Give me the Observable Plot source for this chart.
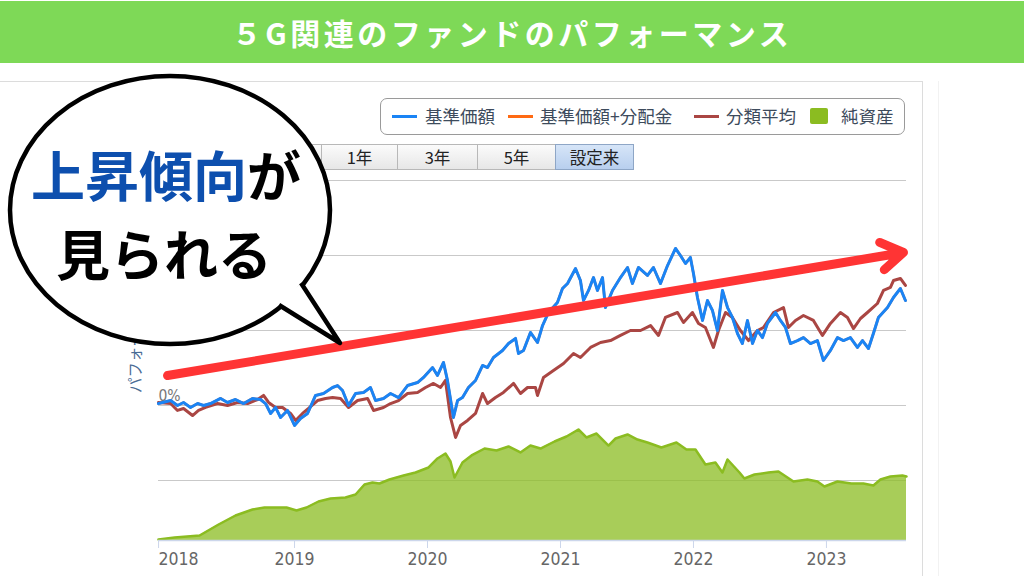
<!DOCTYPE html>
<html><head><meta charset="utf-8">
<script src="https://cdn.jsdelivr.net/npm/d3@7"></script>
<script src="https://cdn.jsdelivr.net/npm/@observablehq/plot@0.6"></script>
<style>
html,body{margin:0;padding:0;background:#fff;width:1024px;height:576px;overflow:hidden;font-family:"Noto Sans CJK JP","Noto Sans",sans-serif;}
.abs{position:absolute;}
#titlebar{left:0;top:1px;width:1024px;height:62px;background:#7ed957;color:#fff;font-weight:700;font-size:30px;letter-spacing:3.5px;text-align:center;line-height:62px;}
#legend{left:380px;top:98px;width:525px;height:37px;border:1px solid #9a9a9a;border-radius:7px;box-sizing:border-box;background:#fff;}
.lgtext{font-size:17.5px;color:#3d4b5c;line-height:20px;top:106px;white-space:nowrap;}
.lgline{height:3px;top:115px;width:25px;}
.btn{top:144px;height:26px;box-sizing:border-box;border:1px solid #b8b8b8;background:linear-gradient(#fbfbfb,#e7e7e7);font-size:16.5px;color:#222;text-align:center;line-height:24px;}
.btn.sel{background:linear-gradient(#d6e5f8,#b8cfee);border-color:#8ea6c6;}
.layer{left:0;top:80px;}
.layer svg{display:block;}
</style></head>
<body>
<div id="titlebar" class="abs">５G関連のファンドのパフォーマンス</div>

<svg class="abs" style="left:0;top:0;z-index:0" width="1024" height="576">
  <line x1="0" y1="81.5" x2="922" y2="81.5" stroke="#dcdcdc"/>
  <line x1="922.5" y1="81" x2="922.5" y2="576" stroke="#dcdcdc"/>
  <line x1="938.5" y1="81" x2="938.5" y2="576" stroke="#f2f2f2"/>
  <text x="134" y="393" transform="rotate(-90 134 393)" font-size="15.5" fill="#4a6c95" dominant-baseline="central" font-family="Noto Sans CJK JP">パフォーマンス</text>
</svg>

<div id="legend" class="abs"></div>
<div class="abs lgline" style="left:392px;background:#1a84f5"></div>
<div class="abs lgtext" style="left:425px">基準価額</div>
<div class="abs lgline" style="left:508px;background:#ff6a13"></div>
<div class="abs lgtext" style="left:540px">基準価額+分配金</div>
<div class="abs lgline" style="left:694px;background:#aa4643"></div>
<div class="abs lgtext" style="left:726px">分類平均</div>
<div class="abs" style="left:810px;top:108px;width:18px;height:16px;background:#8bbc21;border-radius:2px"></div>
<div class="abs lgtext" style="left:841px">純資産</div>

<div class="abs btn" style="left:243px;width:79px"></div>
<div class="abs btn" style="left:321px;width:77px">1年</div>
<div class="abs btn" style="left:397px;width:81px">3年</div>
<div class="abs btn" style="left:477px;width:79px">5年</div>
<div class="abs btn sel" style="left:555px;width:79px">設定来</div>

<div id="grid" class="abs layer" style="z-index:1"></div>
<div id="area" class="abs layer" style="z-index:2"></div>
<div id="lines" class="abs layer" style="z-index:3"></div>

<svg class="abs" style="left:0;top:0;z-index:20" width="1024" height="576">
  <ellipse cx="170" cy="210" rx="160" ry="134" fill="#fff" stroke="#000" stroke-width="4.5"/>
  <path d="M301 283 L340 343 L279 305" fill="#fff" stroke="#000" stroke-width="4.5" stroke-linejoin="round"/>
  <text x="166" y="173" text-anchor="middle" dominant-baseline="central" font-size="54" font-weight="700" font-family="Noto Sans CJK JP"><tspan fill="#0d4fae">上昇傾向</tspan><tspan fill="#000">が</tspan></text>
  <text x="164" y="252" text-anchor="middle" dominant-baseline="central" font-size="54" font-weight="700" font-family="Noto Sans CJK JP" fill="#000">見られる</text>
</svg>

<script>
// x values are decimal years
const years = [2018, 2019, 2020, 2021, 2022, 2023];
const gridTicks = [-50, 0, 50, 100, 150];

// 基準価額 (performance %)
const navT = [2017.977,2018.068,2018.120,2018.165,2018.218,2018.271,2018.316,2018.368,2018.444,2018.496,
2018.556,2018.617,2018.684,2018.744,2018.782,2018.820,2018.857,2018.895,2018.947,2019.000,
2019.045,2019.098,2019.158,2019.218,2019.286,2019.323,2019.361,2019.406,2019.459,2019.519,
2019.571,2019.609,2019.669,2019.722,2019.782,2019.850,2019.925,2019.970,2020.038,2020.075,
2020.120,2020.150,2020.195,2020.226,2020.263,2020.308,2020.361,2020.414,2020.451,2020.496,
2020.564,2020.609,2020.662,2020.684,2020.722,2020.774,2020.827,2020.865,2020.910,2020.977,
2021.015,2021.053,2021.113,2021.150,2021.173,2021.211,2021.248,2021.278,2021.316,2021.338,
2021.391,2021.451,2021.504,2021.541,2021.586,2021.654,2021.699,2021.752,2021.805,2021.865,
2021.902,2021.940,2021.977,2022.000,2022.030,2022.068,2022.105,2022.143,2022.180,2022.218,
2022.256,2022.293,2022.331,2022.368,2022.406,2022.444,2022.481,2022.519,2022.556,2022.617,
2022.654,2022.692,2022.729,2022.782,2022.827,2022.880,2022.932,2022.977,2023.030,2023.083,
2023.128,2023.180,2023.233,2023.271,2023.316,2023.353,2023.391,2023.459,2023.504,2023.556,2023.594];
const navV = [1.3,3.3,0,2.0,-1.3,1.3,0,1.3,4.7,2.0,
4.0,1.3,4.7,4.0,1.3,-5.3,-1.3,-8.0,-3.3,-13.3,
-8.7,-5.3,6.7,8.0,12.0,13.3,10.0,0,8.0,8.7,
12.0,3.3,4.7,8.0,5.3,13.3,15.3,18.7,25.3,20.0,
28.7,16.7,-8.0,3.3,5.3,12.0,16.7,26.7,25.3,32.0,
36.7,41.3,44.7,34.7,36.7,48.7,42.0,53.3,62.0,68.7,
78.0,81.3,91.3,83.3,70.0,76.7,85.3,76.7,85.3,65.3,
76.7,85.3,92.0,81.3,92.0,86.7,92.0,81.3,93.3,104.7,
100.0,94.7,98.7,88.0,72.0,56.7,70.0,63.3,50.0,76.7,
65.3,58.7,48.0,41.3,56.7,41.3,50.0,45.3,54.7,62.0,
56.7,52.0,41.3,43.3,45.3,41.3,43.3,30.0,36.7,45.3,
43.3,45.3,38.7,43.3,38.0,48.0,58.7,65.3,72.0,78.0,70.0];

// 分類平均 (performance %)
const avgT = [2017.977,2018.068,2018.120,2018.165,2018.233,2018.278,2018.331,2018.421,2018.496,2018.571,
2018.647,2018.722,2018.767,2018.805,2018.857,2018.910,2018.970,2019.008,2019.060,2019.105,
2019.173,2019.233,2019.286,2019.346,2019.406,2019.474,2019.549,2019.594,2019.669,2019.722,
2019.782,2019.850,2019.925,2019.985,2020.045,2020.098,2020.135,2020.173,2020.211,2020.248,
2020.301,2020.361,2020.414,2020.451,2020.511,2020.571,2020.647,2020.699,2020.752,2020.812,
2020.827,2020.872,2020.947,2021.023,2021.098,2021.150,2021.226,2021.301,2021.376,2021.451,
2021.526,2021.602,2021.677,2021.737,2021.789,2021.880,2021.925,2021.992,2022.038,2022.090,
2022.150,2022.188,2022.241,2022.293,2022.353,2022.414,2022.481,2022.526,2022.602,2022.677,
2022.714,2022.767,2022.827,2022.902,2022.970,2023.030,2023.105,2023.158,2023.203,2023.256,
2023.308,2023.383,2023.429,2023.481,2023.504,2023.556,2023.594];
const avgV = [2.0,1.3,-3.3,-2.0,-6.7,-3.3,-1.3,1.3,0,2.0,
1.3,4.0,6.7,2.0,-1.3,-1.3,-5.3,-10.0,-5.3,-2.0,
3.3,4.7,5.3,4.7,-1.3,3.3,4.7,-3.3,-1.3,1.3,
3.3,8.0,8.7,12.0,14.7,12.0,16.7,-8.0,-21.3,-13.3,
-10.0,-5.3,8.0,1.3,5.3,8.7,14.7,8.0,12.0,12.0,
6.7,18.7,23.3,28.0,34.7,32.0,38.7,42.0,43.3,46.7,
50.0,50.0,53.3,46.7,58.7,62.0,55.3,62.0,54.7,52.0,
38.7,50.0,62.0,58.7,50.0,43.3,50.0,52.0,62.0,65.3,
52.0,56.7,60.0,56.7,46.7,54.7,62.0,58.7,51.3,58.0,
62.0,68.0,76.7,78.7,83.3,84.7,80.0];

// 純資産 (億円, own axis)
const assetT = [2017.977,2018.098,2018.286,2018.429,2018.556,2018.684,2018.774,2018.872,2018.940,2019.015,
2019.090,2019.180,2019.271,2019.383,2019.459,2019.526,2019.586,2019.639,2019.714,2019.820,
2019.910,2020.008,2020.075,2020.135,2020.173,2020.203,2020.263,2020.331,2020.429,2020.519,
2020.609,2020.699,2020.774,2020.850,2020.955,2021.045,2021.135,2021.195,2021.271,2021.361,
2021.414,2021.504,2021.579,2021.654,2021.759,2021.872,2021.947,2022.015,2022.090,2022.165,
2022.218,2022.256,2022.346,2022.383,2022.459,2022.564,2022.639,2022.752,2022.857,2022.932,
2022.985,2023.083,2023.188,2023.278,2023.353,2023.406,2023.481,2023.571,2023.602];
const assetV = [17,50,83,267,417,517,550,550,550,500,
550,650,700,717,767,933,967,950,1017,1083,
1133,1217,1367,1450,1317,1050,1300,1417,1533,1500,
1567,1467,1583,1533,1650,1733,1850,1717,1783,1583,
1700,1767,1683,1633,1550,1633,1517,1517,1267,1300,
1133,1350,1133,1033,1100,1133,1150,983,1017,983,
900,983,950,950,917,1017,1067,1083,1067];

// annotation arrow (trend), in data units
const trendT = [2018.045, 2023.579];
const trendV = [20, 102];

const rows = (T, V) => T.map((t, i) => ({t, v: V[i]}));
const nav = rows(navT, navV), avg = rows(avgT, avgV), assets = rows(assetT, assetV);
const trend = [{x1: trendT[0], y1: trendV[0], x2: trendT[1], y2: trendV[1]}];

const frame = {width: 930, height: 496, marginLeft: 158, marginRight: 24, marginTop: 98, marginBottom: 36};
const xDomain = [2017.977, 2023.602];
const perfDomain = [-90, 151.33];
const assetDomain = [0, 6033];
const bg = {background: "transparent", overflow: "visible"};

document.getElementById("grid").appendChild(Plot.plot({
  ...frame, style: bg,
  x: {domain: xDomain, axis: null}, y: {domain: perfDomain, axis: null},
  marks: [Plot.ruleY(gridTicks, {stroke: "#c9c9c9", strokeWidth: 1})]
}));

document.getElementById("area").appendChild(Plot.plot({
  ...frame, style: bg,
  x: {domain: xDomain, axis: null}, y: {domain: assetDomain, axis: null},
  marks: [
    Plot.areaY(assets, {x: "t", y: "v", fill: "#8bbc21", fillOpacity: 0.75}),
    Plot.lineY(assets, {x: "t", y: "v", stroke: "#8bbc21", strokeWidth: 2.5})
  ]
}));

const fmt = d => String(d);
document.getElementById("lines").appendChild(Plot.plot({
  ...frame,
  style: {...bg, fontFamily: "'DejaVu Sans Condensed','DejaVu Sans',sans-serif", fontSize: "17.5px"},
  x: {domain: xDomain, label: null}, y: {domain: perfDomain, label: null},
  marks: [
    Plot.ruleY([perfDomain[0]], {stroke: "#ccd6eb", strokeWidth: 1.5}),
    Plot.axisX(years.slice(1), {tickSize: 8, tickPadding: 4, stroke: "#ccd6eb", fill: "#666", tickFormat: fmt, label: null}),
    Plot.axisX([years[0]], {tickSize: 8, tickPadding: 4, stroke: "#ccd6eb", fill: "#666", tickFormat: fmt, textAnchor: "start", dx: -3, label: null}),
    Plot.axisY([0], {anchor: "left", tickSize: 0, textAnchor: "start", dx: 9, dy: -9, fontSize: 15.5, fill: "#777", tickFormat: d => d + "%", label: null}),
    Plot.lineY(nav, {x: "t", y: "v", stroke: "#ff6a13", strokeWidth: 2.5}),
    Plot.lineY(avg, {x: "t", y: "v", stroke: "#aa4643", strokeWidth: 3}),
    Plot.lineY(nav, {x: "t", y: "v", stroke: "#1a84f5", strokeWidth: 3}),
    Plot.arrow(trend, {x1: "x1", y1: "y1", x2: "x2", y2: "y2", stroke: "#ff3434", strokeWidth: 9,
      headLength: 4.3, headAngle: 65, strokeLinecap: "round", strokeLinejoin: "round"})
  ]
}));
</script>
</body></html>
